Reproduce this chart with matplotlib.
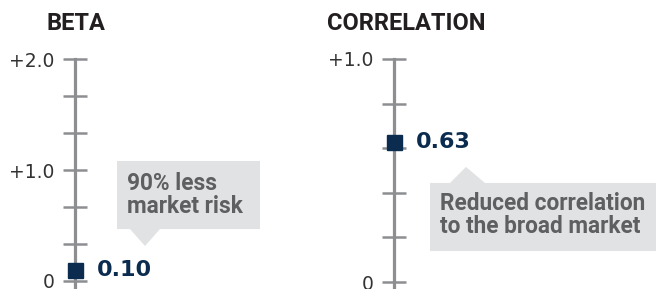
import numpy as np
import matplotlib
matplotlib.use('Agg')
import matplotlib.pyplot as plt
from matplotlib.patches import Polygon
from matplotlib.ticker import FixedLocator, FixedFormatter

# data
titles = ['BETA', 'CORRELATION']
values = [0.10, 0.63]
value_labels = ['0.10', '0.63']
tick_values = [np.linspace(0, 2.0, 7), np.linspace(0, 1.0, 6)]
tick_labels = [['0', '', '', '+1.0', '', '', '+2.0'],
               ['0', '', '', '', '', '+1.0']]
notes = ['90% less\nmarket risk', 'Reduced correlation\nto the broad market']

NAVY = '#0b2c4f'
GREY_AX = '#8c8e91'
GREY_TXT = '#5e5f61'
BOX = '#e1e2e3'
DARK = '#231f20'

W, H = 656, 289
fig = plt.figure(figsize=(W / 100, H / 100), dpi=100)


def px_axes(x0, top, width, ylim, px_per_unit):
    """Axes placed in pixel units: left spine at x0, ylim[1] at pixel row top."""
    height = (ylim[1] - ylim[0]) * px_per_unit
    bottom = H - top - height
    ax = fig.add_axes([x0 / W, bottom / H, width / W, height / H])
    ax.set_xlim(0, width)
    ax.set_ylim(*ylim)
    return ax


def gauge(ax, i, title_xy, box, tip, text_xy):
    for s in ['top', 'right', 'bottom']:
        ax.spines[s].set_visible(False)
    ax.spines['left'].set_color(GREY_AX)
    ax.spines['left'].set_linewidth(2.3)
    ax.spines['left'].set_zorder(1)
    ax.patch.set_visible(False)
    ax.set_xticks([])
    ax.yaxis.set_major_locator(FixedLocator(tick_values[i]))
    ax.yaxis.set_major_formatter(FixedFormatter(tick_labels[i]))
    ax.tick_params(axis='y', direction='inout', length=17, width=1.8,
                   color=GREY_AX, pad=6.0, labelsize=13.5, labelcolor='#333333')
    for lab in ax.get_yticklabels():
        lab.set_fontfamily('DejaVu Sans')

    # marker and value
    ax.plot([0], [values[i]], 's', ms=10.8, color=NAVY, clip_on=False, zorder=5)
    ax.annotate(value_labels[i], xy=(0, values[i]), xytext=(15.5, 0),
                textcoords='offset points', va='center', ha='left',
                fontsize=16, fontweight='bold', color=NAVY,
                family='DejaVu Sans')

    # callout
    x0, x1, y0, y1 = box
    bx0, bx1, tx, ty = tip
    if ty < y0:
        pts = [(x0, y0), (bx0, y0), (tx, ty), (bx1, y0), (x1, y0), (x1, y1), (x0, y1)]
    else:
        pts = [(x0, y1), (bx0, y1), (tx, ty), (bx1, y1), (x1, y1), (x1, y0), (x0, y0)]
    ax.add_patch(Polygon(pts, closed=True, facecolor=BOX, edgecolor='none',
                         clip_on=False, zorder=0))
    ax.text(text_xy[0], text_xy[1], notes[i], ha='left', va='center',
            fontsize=16.3, fontweight='bold', color=GREY_TXT,
            family='Roboto', linespacing=1.0)

    # title
    ax.text(title_xy[0], title_xy[1], titles[i], ha='left', va='center',
            fontsize=17, fontweight='bold', color=DARK, family='Roboto',
            clip_on=False)


ax1 = px_axes(75, 59, 225, (-0.1, 2.0), 111)
gauge(ax1, 0, title_xy=(-29, 2.0 + 36 / 111),
      box=(42, 185, 0.468, 1.081), tip=(55, 85, 70, 0.315),
      text_xy=(52, 0.779))

ax2 = px_axes(394, 59, 262, (-0.05, 1.0), 223)
gauge(ax2, 1, title_xy=(-67, 1.0 + 36 / 223),
      box=(36, 262, 0.139, 0.444), tip=(56, 91, 72, 0.516),
      text_xy=(46, 0.300))

fig.savefig('out.png', dpi=100)
